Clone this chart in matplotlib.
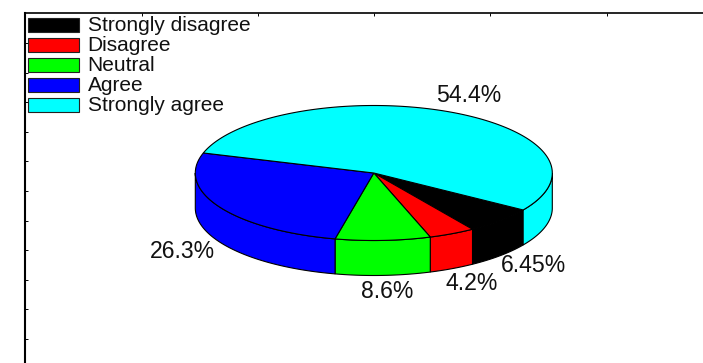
import numpy as np
import matplotlib
matplotlib.use("Agg")
import matplotlib.pyplot as plt
from matplotlib.patches import Rectangle

categories = ["Strongly disagree", "Disagree", "Neutral", "Agree", "Strongly agree"]
percents = [6.45, 4.2, 8.6, 26.3, 54.4]
pct_labels = ["6.45%", "4.2%", "8.6%", "26.3%", "54.4%"]
colors = ["#000000", "#ff0000", "#00ff00", "#0000ff", "#00ffff"]

plt.rcParams["font.family"] = ["Liberation Sans", "DejaVu Sans"]

W, H = 703, 363
fig = plt.figure(figsize=(W / 100, H / 100), dpi=100)
# axes run off the right and bottom of the picture, only top/left frame shows
ax = fig.add_axes([24.5 / W, 0, (W - 24.5) / W, (H - 13) / H])
ax.set_xlim(24.5, W)
ax.set_ylim(H, 13)
ax.spines["right"].set_visible(False)
ax.spines["bottom"].set_visible(False)
ax.spines["left"].set_linewidth(1.5)
ax.spines["top"].set_linewidth(1.2)
ax.xaxis.tick_top()
ax.set_xticks(np.arange(141.5, W, 116.3))
ax.set_yticks(np.arange(43, H, 29.6))
ax.tick_params(direction="in", length=2, width=0.7, labeltop=False, labelleft=False)

# pie geometry in pixels
cx, cy = 373.8, 173
a, b = 178.5, 67.5
depth = 35
start = -33.2


def rim(t):
    t = np.radians(t)
    return cx + a * np.cos(t), cy - b * np.sin(t)


angles = start - np.cumsum([0] + [p / sum(percents) * 360 for p in percents])

# side walls, only the part facing the viewer
for i, c in enumerate(colors):
    hi, lo = angles[i], angles[i + 1]
    for shift in (0, 360):
        h = min(hi + shift, 0)
        l = max(lo + shift, -180)
        if h <= l:
            continue
        t = np.linspace(h, l, 80)
        x, y = rim(t)
        ax.fill(np.r_[x, x[::-1]], np.r_[y, y[::-1] + depth], facecolor=c,
                edgecolor="black", linewidth=0.8, zorder=2)

# top face
for i, c in enumerate(colors):
    t = np.linspace(angles[i], angles[i + 1], 200)
    x, y = rim(t)
    ax.fill(np.r_[cx, x], np.r_[cy, y], facecolor=c, edgecolor="black",
            linewidth=0.8, zorder=3)

# legend is drawn by hand so the swatches sit like the original
for i, (name, c) in enumerate(zip(categories, colors)):
    ax.add_patch(Rectangle((28, 18 + 20 * i), 51, 14, facecolor=c, edgecolor="#222222",
                           linewidth=0.8, zorder=4))
    ax.text(87.5, 25.5 + 20 * i, name, fontsize=15, va="center", ha="left", color="#111111")

label_xy = [(533, 266), (472, 284), (387, 292), (182, 251), (469, 96)]
for s, (x, y) in zip(pct_labels, label_xy):
    ax.text(x, y, s, fontsize=16.6, ha="center", va="center", color="#111111", zorder=5)

fig.savefig("out.png", dpi=100)
